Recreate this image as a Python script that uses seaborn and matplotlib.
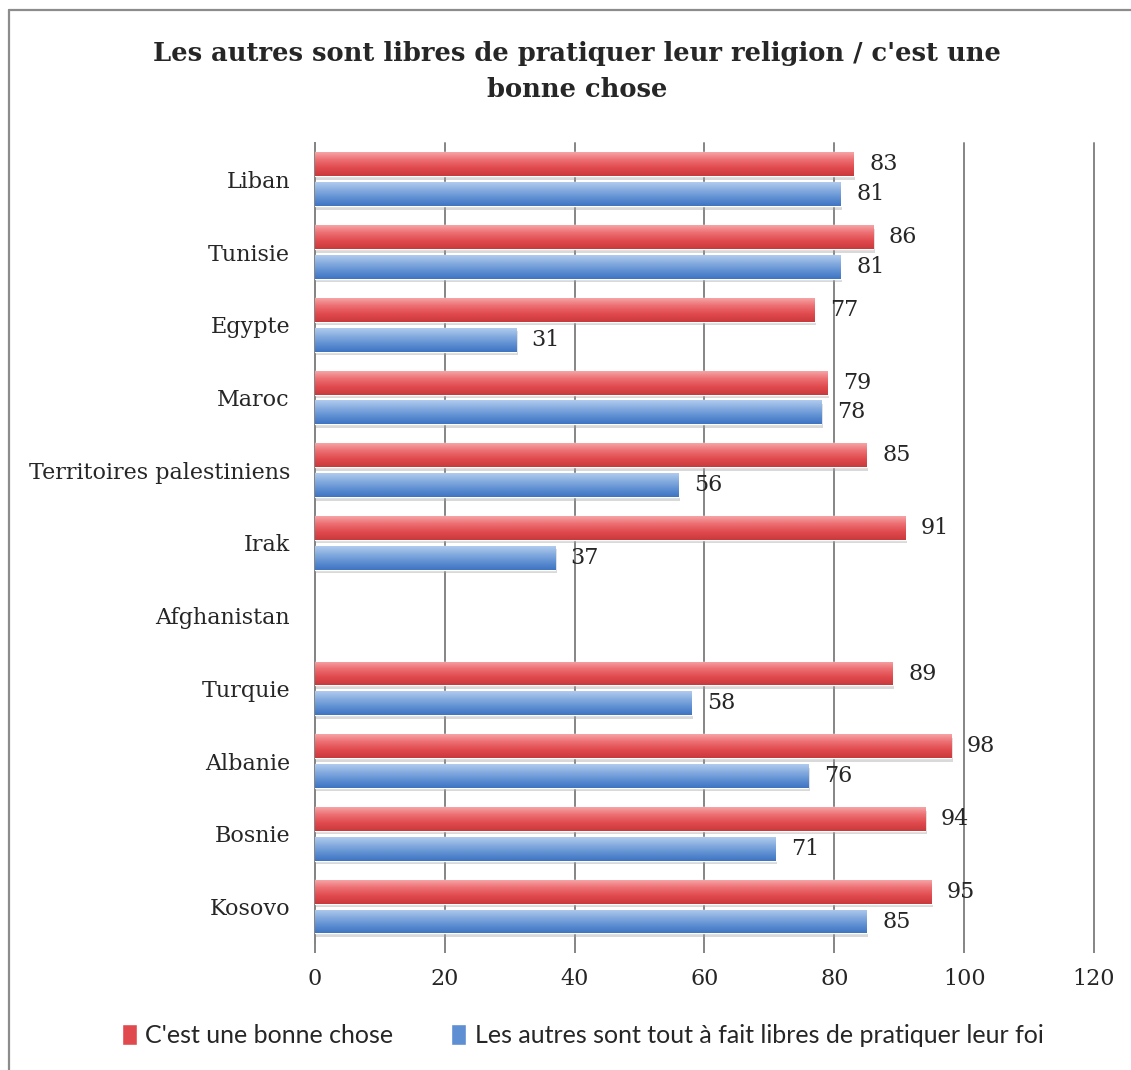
import numpy as np
import pandas as pd
import matplotlib
matplotlib.use("Agg")
import matplotlib.pyplot as plt
import matplotlib.patheffects as pe
from matplotlib.colors import LinearSegmentedColormap
from matplotlib.patches import Rectangle
from matplotlib.lines import Line2D
import seaborn as sns

countries = ["Liban", "Tunisie", "Egypte", "Maroc", "Territoires palestiniens",
             "Irak", "Afghanistan", "Turquie", "Albanie", "Bosnie", "Kosovo"]
bonne_chose = [83, 86, 77, 79, 85, 91, np.nan, 89, 98, 94, 95]
libres = [81, 81, 31, 78, 56, 37, np.nan, 58, 76, 71, 85]
series_names = ["C'est une bonne chose",
                "Les autres sont tout à fait libres de pratiquer leur foi"]
x_ticks = [0, 20, 40, 60, 80, 100, 120]

df = pd.DataFrame({
    "pays": countries * 2,
    "valeur": bonne_chose + libres,
    "serie": [series_names[0]] * len(countries) + [series_names[1]] * len(countries),
})

red_grad = ["#f6a3a5", "#ec6d70", "#e04a4e", "#c93a3d"]
blue_grad = ["#b0cbee", "#86acdf", "#5e8fd2", "#3f74c2"]
palette = {series_names[0]: red_grad[2], series_names[1]: blue_grad[2]}

sns.set_theme(style="white")
plt.rcParams["font.family"] = ["DejaVu Serif"]
text_color = "#262626"
grid_color = "#858585"
label_size = 16

fig = plt.figure(figsize=(11.31, 10.70), dpi=100)
ax = fig.add_axes([0.2785, 0.1187, 0.6888, 0.7477])

sns.barplot(data=df, y="pays", x="valeur", hue="serie", order=countries,
            hue_order=series_names, palette=palette, orient="h",
            width=0.82, gap=0.2, ax=ax, legend=False, zorder=3)

ax.set_xticks(x_ticks)
ax.set_xlabel("")
ax.set_ylabel("")
ax.xaxis.grid(True, color=grid_color, linewidth=1.4, zorder=0)
ax.set_axisbelow(True)
for s in ["top", "right", "bottom"]:
    ax.spines[s].set_visible(False)
ax.spines["left"].set_color(grid_color)
ax.spines["left"].set_linewidth(1.4)
ax.tick_params(axis="x", length=7, width=1.4, color=grid_color, pad=11,
               labelsize=label_size, labelcolor=text_color, bottom=True)
ax.tick_params(axis="y", length=0, pad=18, labelsize=label_size, labelcolor=text_color)

# gradient fill and soft shadow on each bar
grads = [LinearSegmentedColormap.from_list("r", red_grad),
         LinearSegmentedColormap.from_list("b", blue_grad)]
gradient = np.linspace(0, 1, 64).reshape(-1, 1)
for cmap, container in zip(grads, ax.containers):
    for bar in container:
        w = bar.get_width()
        if not np.isfinite(w) or w <= 0:
            continue
        bar.set_path_effects([pe.SimplePatchShadow(offset=(1, -2.5), shadow_rgbFace="#a0a0a0", alpha=0.4),
                              pe.Normal()])
        y0 = bar.get_y()
        h = bar.get_height()
        im = ax.imshow(gradient, cmap=cmap, aspect="auto", interpolation="bilinear",
                       extent=[bar.get_x(), bar.get_x() + w, y0 + h, y0], zorder=4)
        im.set_clip_path(bar)
    ax.bar_label(container, fmt="%.0f", padding=11, fontsize=label_size, color=text_color)

ax.set_xlim(0, 120)
ax.set_ylim(len(countries) - 0.5, -0.5)
for gl in ax.get_xgridlines():
    gl.set_clip_on(False)

fig.suptitle("Les autres sont libres de pratiquer leur religion / c'est une\nbonne chose",
             x=0.51, y=0.9336, va="center", fontsize=18.5, fontweight="bold",
             color=text_color, linespacing=1.55)

handles = [Rectangle((0, 0), 1, 1, facecolor=red_grad[2]),
           Rectangle((0, 0), 1, 1, facecolor=blue_grad[2])]
fig.legend(handles, series_names, loc="center", bbox_to_anchor=(0.515, 0.032),
           ncol=2, frameon=False, handlelength=0.6, handleheight=0.9,
           handletextpad=0.35, columnspacing=2.3,
           prop={"family": ["Lato", "DejaVu Sans"], "size": 18},
           labelcolor=text_color)

# outer chart frame
fig.add_artist(Line2D([0.008, 0.008], [0.0, 0.991], color="#8c8c8c", linewidth=1.6,
                      transform=fig.transFigure))
fig.add_artist(Line2D([0.008, 1.0], [0.991, 0.991], color="#8c8c8c", linewidth=1.6,
                      transform=fig.transFigure))

fig.savefig("out.png", dpi=100, facecolor="white")
